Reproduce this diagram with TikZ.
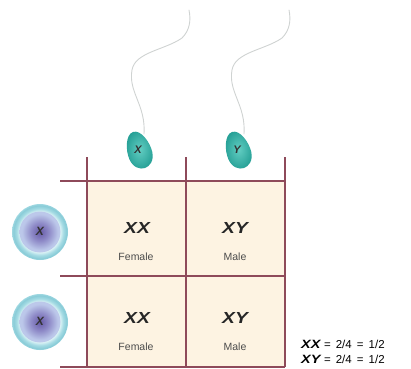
\documentclass[tikz,border=0pt]{standalone}
\usepackage{fontspec}
\setmainfont{Liberation Sans}
\newfontfamily\genofont[FakeStretch=1.2]{Liberation Sans}
\definecolor{gridline}{HTML}{8E4A5A}
\definecolor{cellfill}{HTML}{FDF3E2}
\definecolor{spermhead}{HTML}{62CDC2}
\definecolor{spermdark}{HTML}{26A096}
\definecolor{ringin}{HTML}{DDF3F6}
\definecolor{ringmid}{HTML}{A3DAE3}
\definecolor{ringout}{HTML}{86CAD6}
\definecolor{coredark}{HTML}{665AA6}
\definecolor{coremid}{HTML}{8F8BC8}
\definecolor{corelight}{HTML}{BCC8EA}
\definecolor{tail}{HTML}{CFD3D2}
% radial shadings: 25bp is the rim of the shaded circle
\pgfdeclareradialshading{eggring}{\pgfpoint{0bp}{0bp}}{%
  color(0bp)=(ringin); color(18bp)=(ringin); color(21bp)=(ringmid);
  color(24bp)=(ringout); color(25bp)=(ringmid); color(50bp)=(ringmid)}
\pgfdeclareradialshading{eggcore}{\pgfpoint{0bp}{0bp}}{%
  color(0bp)=(coredark); color(11bp)=(coremid); color(22bp)=(corelight);
  color(25bp)=(corelight); color(50bp)=(corelight)}
\begin{document}
\begin{tikzpicture}[x=1pt,y=-1pt,
  grid/.style={draw=gridline,line width=1.3pt},
  geno/.style={font=\genofont\fontsize{16}{16}\selectfont\bfseries\itshape,text=black!85},
  sexlabel/.style={font=\fontsize{10.5}{10.5}\selectfont,text=black!70},
  chrom/.style={font=\fontsize{12}{12}\selectfont\bfseries\itshape,text=black!80},
  tailline/.style={draw=tail,line width=0.9pt,line cap=round}]
\useasboundingbox (0,0) rectangle (411,368);

% cells of the square
\fill[cellfill] (87,181) rectangle (285,367);

% grid lines
\draw[grid] (87,157) -- (87,367);
\draw[grid] (186,157) -- (186,367);
\draw[grid] (285,157) -- (285,367);
\draw[grid] (60,181) -- (285,181);
\draw[grid] (60,276) -- (285,276);
\draw[grid] (60,367) -- (285,367);

% sperm tails
\draw[tailline] (144,134) .. controls (146,105) and (128,92) .. (132,70)
  .. controls (135,52) and (165,50) .. (182,38)
  .. controls (190,30) and (191,20) .. (189,10);
\draw[tailline] (244,134) .. controls (246,105) and (228,92) .. (232,70)
  .. controls (235,52) and (265,50) .. (282,38)
  .. controls (290,30) and (291,20) .. (289,10);

% sperm heads: egg-shaped, narrow end up towards the tail
\foreach \name/\cx/\lbl in {sx/139/X, sy/238/Y}{
  \begin{scope}[shift={(\cx,150)}, rotate=18]
    \shade[inner color=spermhead, outer color=spermdark]
      (0,-19) .. controls (8,-19) and (13,-4) .. (12,6)
      .. controls (11,15) and (5,19) .. (0,19)
      .. controls (-5,19) and (-11,15) .. (-12,6)
      .. controls (-13,-4) and (-8,-19) .. (0,-19) -- cycle;
  \end{scope}
  \node[chrom, font=\fontsize{11}{11}\selectfont\bfseries\itshape] (\name) at (\cx-1,150) {\lbl};
}

% egg cells
\foreach \name/\cy in {ea/232, eb/322}{
  \shade[shading=eggring] (40,\cy) circle (28);
  \shade[shading=eggcore] (40,\cy) circle (20.5);
  \node[chrom] (\name) at (40,\cy-1) {X};
}

% genotypes
\node[geno] (c11) at (137,228) {XX};
\node[sexlabel] (l11) at (136,257) {Female};
\node[geno] (c12) at (235,228) {XY};
\node[sexlabel] (l12) at (235,257) {Male};
\node[geno] (c21) at (137,318) {XX};
\node[sexlabel] (l21) at (136,347) {Female};
\node[geno] (c22) at (235,318) {XY};
\node[sexlabel] (l22) at (235,347) {Male};

% ratios
\node[anchor=west, inner sep=0pt] (r1) at (301,344)
  {{\genofont\fontsize{12}{12}\selectfont\bfseries\itshape XX}\,{\fontsize{11.5}{11.5}\selectfont\,=\, 2/4 \,=\, 1/2}};
\node[anchor=west, inner sep=0pt] (r2) at (301,359)
  {{\genofont\fontsize{12}{12}\selectfont\bfseries\itshape XY}\,{\fontsize{11.5}{11.5}\selectfont\,=\, 2/4 \,=\, 1/2}};
\end{tikzpicture}
\end{document}
